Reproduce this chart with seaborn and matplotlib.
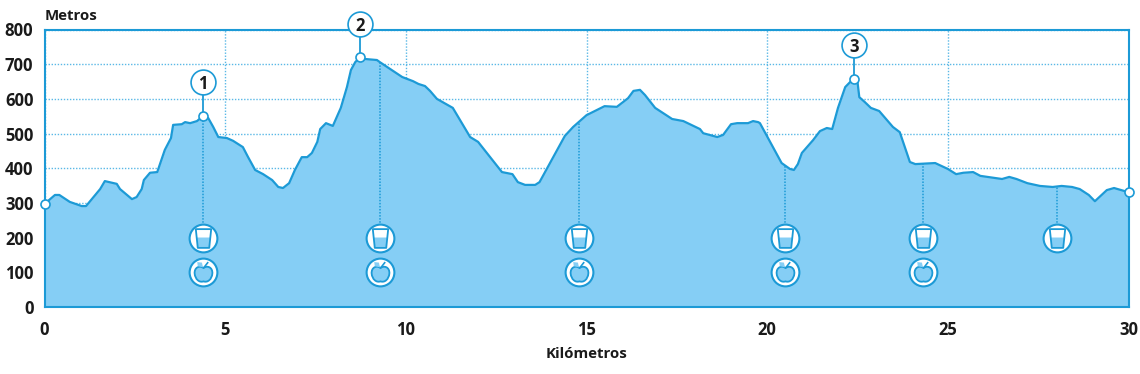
import matplotlib
matplotlib.use("Agg")
import matplotlib.pyplot as plt
import numpy as np
import seaborn as sns
from matplotlib.path import Path

# elevation profile
km = [0, 0.29, 0.41, 0.7, 1.03, 1.15, 1.54, 1.67, 2.0, 2.09, 2.42, 2.55, 2.69, 2.75, 2.92,
      3.12, 3.33, 3.5, 3.56, 3.8, 3.89, 4.03, 4.22, 4.39, 4.53, 4.67, 4.81, 5.05, 5.22, 5.49,
      5.63, 5.83, 6.05, 6.3, 6.47, 6.6, 6.77, 6.93, 7.12, 7.27, 7.4, 7.55, 7.63, 7.79, 7.98,
      8.2, 8.37, 8.48, 8.6, 8.73, 8.87, 9.2, 9.28, 9.9, 10.2, 10.35, 10.53, 10.67, 10.86, 11.3,
      11.78, 12.0, 12.66, 12.95, 13.1, 13.3, 13.58, 13.7, 14.4, 14.63, 15.0, 15.5, 15.84, 16.15, 16.3,
      16.48, 16.62, 16.9, 17.37, 17.68, 18.14, 18.23, 18.62, 18.78, 19.0, 19.17, 19.47, 19.61, 19.75, 19.8,
      20.4, 20.63, 20.74, 20.85, 20.96, 21.27, 21.46, 21.65, 21.8, 21.96, 22.16, 22.3, 22.4, 22.5, 22.55,
      22.7, 22.87, 23.1, 23.48, 23.67, 23.95, 24.1, 24.65, 25.0, 25.23, 25.43, 25.7, 25.9, 26.5, 26.7,
      26.9, 27.2, 27.55, 27.9, 28.15, 28.44, 28.65, 28.9, 29.07, 29.4, 29.6, 30]
metros = [297, 323, 323, 303, 291, 291, 340, 363, 355, 340, 311, 317, 340, 366, 387,
          389, 453, 487, 525, 527, 533, 530, 536, 551, 545, 519, 490, 487, 479, 461,
          433, 395, 383, 366, 346, 343, 357, 395, 432, 432, 444, 476, 513, 530, 522,
          574, 634, 683, 706, 720, 715, 712, 706, 663, 651, 643, 637, 623, 600, 574,
          490, 476, 389, 383, 360, 352, 352, 360, 493, 519, 553, 579, 577, 602, 623,
          626, 611, 574, 542, 536, 513, 501, 490, 496, 527, 530, 530, 536, 533, 530,
          415, 398, 395, 412, 444, 481, 507, 516, 513, 574, 634, 649, 657, 649, 605,
          591, 574, 565, 519, 504, 418, 412, 415, 398, 383, 387, 389, 378, 369, 375,
          369, 357, 349, 346, 349, 346, 340, 323, 305, 337, 343, 331]

end_km = [0, 30]
end_m = [297, 331]

peak_km = [4.39, 8.73, 22.4]
peak_m = [551, 720, 657]
peak_label_m = [650, 815, 755]
peak_labels = ["1", "2", "3"]

water_km = [4.4, 9.28, 14.8, 20.5, 24.3, 28.03]
water_m = [200, 200, 200, 200, 200, 200]
food_km = [4.4, 9.28, 14.8, 20.5, 24.3]
food_m = [100, 100, 100, 100, 100]

x_ticks = [0, 5, 10, 15, 20, 25, 30]
y_ticks = [0, 100, 200, 300, 400, 500, 600, 700, 800]

BLUE = "#1c9ad6"
LIGHT = "#85cef5"
GRID = "#5ab8e6"
INK = "#1a1a1a"

# icon shapes, y points up in marker space
glass = Path([(-0.78, 0.95), (0.78, 0.95), (0.58, -0.95), (-0.58, -0.95), (-0.78, 0.95)], closed=True)
water = Path([(-0.68, 0.1), (0.68, 0.1), (0.58, -0.95), (-0.58, -0.95), (-0.68, 0.1)], closed=True)
apple = Path(
    [(0, 0.42), (0.35, 0.72), (0.9, 0.5), (0.85, -0.1),
     (0.8, -0.65), (0.4, -1.0), (0, -0.85),
     (-0.4, -1.0), (-0.8, -0.65), (-0.85, -0.1),
     (-0.9, 0.5), (-0.35, 0.72), (0, 0.42), (0, 0.42)],
    [Path.MOVETO, Path.CURVE4, Path.CURVE4, Path.CURVE4,
     Path.CURVE4, Path.CURVE4, Path.CURVE4,
     Path.CURVE4, Path.CURVE4, Path.CURVE4,
     Path.CURVE4, Path.CURVE4, Path.CURVE4, Path.CLOSEPOLY],
)
stem = Path([(0.02, 0.45), (0.45, 1.0), (-1.0, -1.0), (1.0, -1.0)],
            [Path.MOVETO, Path.LINETO, Path.MOVETO, Path.MOVETO])
leaf = Path([(-0.05, 0.5), (-0.55, 0.6), (-0.6, 1.0), (-0.15, 0.95), (-0.05, 0.5), (1.0, -1.0)],
            [Path.MOVETO, Path.LINETO, Path.LINETO, Path.LINETO, Path.CLOSEPOLY, Path.MOVETO])

sns.set_theme(style="white")
plt.rcParams["font.family"] = ["Open Sans", "DejaVu Sans"]

fig = plt.figure(figsize=(11.4, 3.74), dpi=100)
ax = fig.add_axes([44.5 / 1140, 1 - 307 / 374, 1084 / 1140, 277.5 / 374])

ax.set_xlim(0, 30)
ax.set_ylim(0, 800)
ax.set_xticks(x_ticks)
ax.set_yticks(y_ticks)
ax.grid(True, color=GRID, linestyle=(0, (1, 1.2)), linewidth=1.0, zorder=1)
ax.set_axisbelow(True)

# area and outline
ax.fill_between(km, metros, color=LIGHT, linewidth=0, zorder=2)
sns.lineplot(x=km, y=metros, color=BLUE, linewidth=1.6, ax=ax, zorder=3, sort=False, errorbar=None)

# dotted leaders from the profile to the station icons
ax.vlines(water_km, water_m, np.interp(water_km, km, metros), color=BLUE,
          linestyle=(0, (1, 1)), linewidth=1.1, zorder=2.5)

# station rings
sns.scatterplot(x=water_km, y=water_m, s=400, color="white", edgecolor=BLUE, linewidth=1.5, ax=ax, zorder=5)
sns.scatterplot(x=food_km, y=food_m, s=400, color="white", edgecolor=BLUE, linewidth=1.5, ax=ax, zorder=5)

# glass icon
ax.plot(water_km, water_m, linestyle="none", marker=water, markersize=13.5, markerfacecolor=LIGHT,
        markeredgewidth=0, zorder=6)
ax.plot(water_km, water_m, linestyle="none", marker=glass, markersize=13.5, markerfacecolor="none",
        markeredgecolor=BLUE, markeredgewidth=1.3, zorder=7)

# apple icon
ax.plot(food_km, food_m, linestyle="none", marker=apple, markersize=15, markerfacecolor=LIGHT,
        markeredgecolor=BLUE, markeredgewidth=1.3, zorder=6)
ax.plot(food_km, food_m, linestyle="none", marker=leaf, markersize=15, markerfacecolor=LIGHT,
        markeredgewidth=0, zorder=6)
ax.plot(food_km, food_m, linestyle="none", marker=stem, markersize=15, markerfacecolor="none",
        markeredgecolor=BLUE, markeredgewidth=1.2, zorder=7)

# numbered peaks
ax.vlines(peak_km, peak_m, peak_label_m, color=BLUE, linewidth=1.3, zorder=4, clip_on=False)
sns.scatterplot(x=peak_km, y=peak_m, s=42, color="white", edgecolor=BLUE, linewidth=1.2, ax=ax, zorder=6, clip_on=False)
sns.scatterplot(x=peak_km, y=peak_label_m, s=320, color="white", edgecolor=BLUE, linewidth=1.2, ax=ax, zorder=6, clip_on=False)
for x, y, t in zip(peak_km, peak_label_m, peak_labels):
    ax.text(x, y, t, ha="center", va="center_baseline", fontsize=12, fontweight="bold", color=INK, zorder=8)

# route ends
sns.scatterplot(x=end_km, y=end_m, s=42, color="white", edgecolor=BLUE, linewidth=1.2, ax=ax, zorder=6, clip_on=False)

for side in ax.spines.values():
    side.set_color(BLUE)
    side.set_linewidth(1.5)
    side.set_zorder(4)

ax.tick_params(axis="both", length=0, labelsize=12, labelcolor=INK)
ax.tick_params(axis="x", pad=10)
ax.tick_params(axis="y", pad=8)
for lab in ax.get_xticklabels() + ax.get_yticklabels():
    lab.set_fontweight("bold")

fig.text(44.5 / 1140, 1 - 15.5 / 374, "Metros", ha="left", va="center", fontsize=10.8, fontweight="bold", color=INK)
fig.text(586.5 / 1140, 1 - 354 / 374, "Kilómetros", ha="center", va="center", fontsize=10.8, fontweight="bold", color=INK)

fig.savefig("out.png", dpi=100, facecolor="white")
